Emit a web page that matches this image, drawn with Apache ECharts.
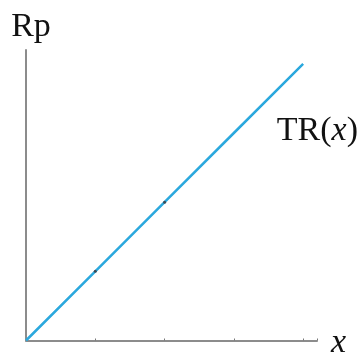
<!DOCTYPE html>
<html>
<head>
<meta charset="utf-8">
<script src="https://cdn.jsdelivr.net/npm/echarts@6/dist/echarts.min.js"></script>
<style>
html, body { margin: 0; padding: 0; background: #fff; }
#chart { width: 360px; height: 353px; }
</style>
</head>
<body>
<div id="chart"></div>
<script>
var xValues = [0, 1, 2, 3, 4];
var trValues = [0, 1, 2, 3, 4];
var dottedPoints = [1, 2];

var chartDom = document.getElementById('chart');
var myChart = echarts.init(chartDom);
var serif = 'Liberation Serif';

var lineData = xValues.map(function (x, i) {
    var item = { value: [x, trValues[i]] };
    if (dottedPoints.indexOf(x) >= 0) {
        item.symbol = 'circle';
        item.symbolSize = 3;
        item.itemStyle = { color: '#3a4a55', borderWidth: 0 };
    } else {
        item.symbol = 'none';
    }
    return item;
});

var option = {
    animation: false,
    grid: { left: 26, right: 43, top: 50, bottom: 12.5, containLabel: false, outerBoundsMode: 'none' },
    xAxis: {
        type: 'value',
        min: 0,
        max: 4.2,
        interval: 1,
        name: '{i|x}',
        nameLocation: 'end',
        nameGap: 14,
        nameTextStyle: {
            rich: { i: { fontFamily: serif, fontStyle: 'italic', fontSize: 34, color: '#111', padding: [6, 0, 0, 0] } }
        },
        axisLine: { lineStyle: { color: '#8c8c8c', width: 2 } },
        axisTick: { show: true, length: 2, inside: true, lineStyle: { color: '#777', width: 1 } },
        axisLabel: { show: false },
        splitLine: { show: false }
    },
    yAxis: {
        type: 'value',
        min: 0,
        max: 4.2,
        interval: 1,
        name: 'Rp',
        nameLocation: 'end',
        nameGap: 6,
        nameTextStyle: { fontFamily: serif, fontSize: 34, color: '#111', padding: [0, 0, 0, 10] },
        axisLine: { show: true, lineStyle: { color: '#8c8c8c', width: 2 } },
        axisTick: { show: false },
        axisLabel: { show: false },
        splitLine: { show: false }
    },
    graphic: [{
        type: 'text',
        right: 2,
        top: 114,
        style: {
            text: 'TR({i|x})',
            fontFamily: serif,
            fontSize: 34,
            fill: '#111',
            rich: { i: { fontFamily: serif, fontStyle: 'italic', fontSize: 34, fill: '#111' } }
        }
    }],
    series: [{
        name: 'TR',
        type: 'line',
        data: lineData,
        lineStyle: { color: '#2ba8dd', width: 2.5 },
        itemStyle: { color: '#2ba8dd' },
        z: 3
    }]
};

myChart.setOption(option);
</script>
</body>
</html>
